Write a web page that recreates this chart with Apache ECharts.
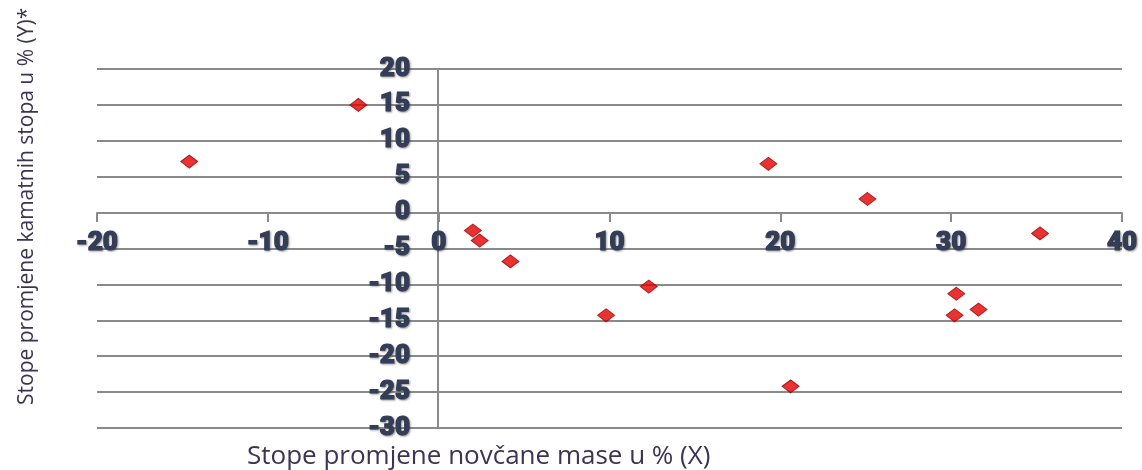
<!DOCTYPE html>
<html>
<head>
<meta charset="utf-8">
<script src="https://cdn.jsdelivr.net/npm/echarts@6/dist/echarts.min.js"></script>
<style>html,body{margin:0;padding:0;background:#fff;}#c{width:1142px;height:470px;}</style>
</head>
<body>
<div id="c"></div>
<script>
const xValues = [-14.6, -4.7, 2.0, 2.4, 4.2, 9.8, 12.3, 19.3, 20.6, 25.1, 30.3, 30.2, 31.6, 35.2];
const yValues = [7.1, 15.0, -2.5, -3.9, -6.8, -14.3, -10.3, 6.8, -24.2, 1.9, -11.3, -14.3, -13.5, -2.9];
const xTitle = 'Stope promjene novčane mase u % (X)';
const yTitle = 'Stope promjene kamatnih stopa u % (Y)*';

const points = xValues.map((x, i) => [x, yValues[i]]);
const labelStyle = {
  color: '#333d57',
  fontFamily: 'Roboto',
  fontWeight: 900,
  fontSize: 26,
  textBorderColor: '#333d57',
  textBorderWidth: 1.2,
  textShadowColor: 'rgba(60,60,60,0.45)',
  textShadowBlur: 2,
  textShadowOffsetX: 1,
  textShadowOffsetY: 1
};
const chart = echarts.init(document.getElementById('c'));
// grid pixel extents: left 97, right 1122, top 69, bottom 428 ; zero lines at x=438, y=213
chart.setOption({
  animation: false,
  grid: { left: 97, right: 20, top: 69, bottom: 42 },
  xAxis: {
    type: 'value', min: -20, max: 40, interval: 10,
    position: 'bottom', offset: -215,
    axisLine: { onZero: false, lineStyle: { color: '#8a8a8a', width: 2 } },
    axisTick: { show: true, length: 9, lineStyle: { color: '#8a8a8a', width: 2 } },
    axisLabel: Object.assign({ margin: 17 }, labelStyle),
    splitLine: { show: false }
  },
  yAxis: {
    type: 'value', min: -30, max: 20, interval: 5,
    position: 'left', offset: -341,
    axisLine: { onZero: false, lineStyle: { color: '#8a8a8a', width: 2 } },
    axisTick: { show: false },
    axisLabel: Object.assign({ margin: 28 }, labelStyle),
    splitLine: { show: true, lineStyle: { color: '#8a8a8a', width: 2 } }
  },
  series: [{
    type: 'scatter',
    data: points,
    symbol: 'diamond',
    symbolSize: [17, 13],
    itemStyle: { color: '#e30000', borderColor: '#a00000', borderWidth: 1 }
  }],
  graphic: [
    { type: 'text', left: 247, top: 444, style: { text: xTitle, fill: '#3c3450', font: '26px "Open Sans"' } },
    { type: 'text', rotation: Math.PI / 2, x: 17, y: 405, style: { text: yTitle, fill: '#3c3450', font: '21px "Open Sans"', textVerticalAlign: 'top' } }
  ]
});
</script>
</body>
</html>
